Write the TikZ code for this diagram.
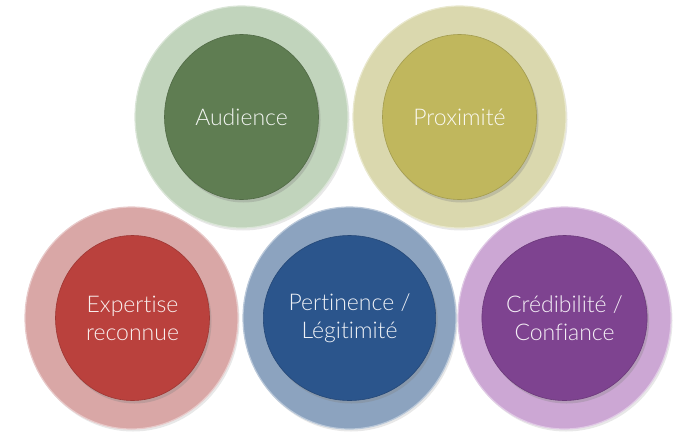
\documentclass[tikz,border=0pt]{standalone}
\usepackage{fontspec}
\setmainfont{Lato}[UprightFont=* Light, Ligatures=NoCommon]
\usetikzlibrary{shapes.geometric,shadows}
\definecolor{gOut}{HTML}{C1D4BC}\definecolor{gIn}{HTML}{5F7D52}
\definecolor{yOut}{HTML}{DAD8AE}\definecolor{yIn}{HTML}{C0B75D}
\definecolor{rOut}{HTML}{D9A7A6}\definecolor{rIn}{HTML}{BA413D}
\definecolor{bOut}{HTML}{8CA3BF}\definecolor{bIn}{HTML}{2B558C}
\definecolor{pOut}{HTML}{CCA7D4}\definecolor{pIn}{HTML}{7E4390}
\tikzset{
  ring/.style={ellipse, minimum width=213pt, minimum height=222pt, inner sep=0pt,
    fill=#1, draw=#1!60!white, line width=1.2pt,
    drop shadow={opacity=0.18, shadow xshift=1.5pt, shadow yshift=-2.5pt}},
  core/.style={ellipse, minimum width=154pt, minimum height=165pt, inner sep=0pt,
    fill=#1, draw=#1!85!black, line width=0.6pt,
    drop shadow={opacity=0.3, shadow xshift=2pt, shadow yshift=-3pt},
    text=white!92!#1, font=\fontsize{23}{28}\selectfont, align=center}
}
\begin{document}
\begin{tikzpicture}[x=1pt,y=-1pt]
\useasboundingbox (0,0) rectangle (700,434);
\node[ring=gOut] (audR) at (241.5,117) {};
\node[ring=yOut] (proR) at (459.5,117) {};
\node[ring=rOut] (expR) at (131.5,318) {};
\node[ring=bOut] (perR) at (349.5,318) {};
\node[ring=pOut] (creR) at (564.5,318) {};
\node[core=gIn] (aud) at (audR.center) {Audience};
\node[core=yIn] (pro) at (proR.center) {Proximité};
\node[core=rIn] (exp) at ([xshift=1pt]expR.center) {Expertise\\reconnue};
\node[core=bIn] (per) at (perR.center) {Pertinence /\\Légitimité};
\node[core=pIn] (cre) at (creR.center) {Crédibilité /\\Confiance};
\end{tikzpicture}
\end{document}
